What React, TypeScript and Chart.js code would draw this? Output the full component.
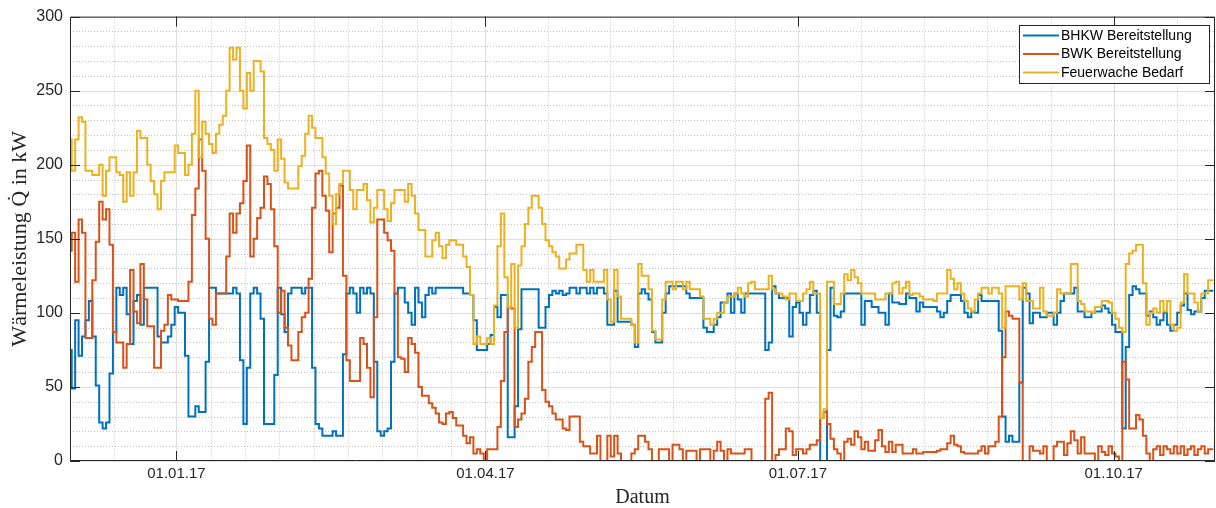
import React, { useEffect, useRef } from "react";
import { Chart, registerables } from "chart.js";

Chart.register(...registerables);

// Daily values, index = days since 01.12.2016
const bhkw: number[] = [
  75, 49, 95, 71, 84, 95, 108, 84, 51, 26,
  22, 26, 59, 87, 117, 112, 117, 99, 79, 108,
  112, 92, 117, 117, 117, 117, 84, 80, 80, 84,
  92, 104, 100, 100, 71, 30, 30, 37, 33, 33,
  67, 117, 117, 113, 113, 113, 113,
  113, 117,
  113, 68, 25, 63, 113, 117, 113, 96, 25, 25,
  25, 58, 117, 99, 87, 113, 117, 117, 117, 113,
  117, 117, 63, 25, 22, 17, 17, 17, 20, 17,
  17, 72, 113, 117, 113, 100, 117, 113, 117, 113,
  67, 20, 17, 20, 22, 67, 113, 117, 117, 107,
  100, 92, 117, 107, 97, 112, 117, 113, 117, 117,
  117, 117, 117, 117, 117, 117, 113, 113, 112, 95,
  75, 75, 75, 79, 85, 104, 97, 112, 112, 16,
  16, 37, 89, 116, 116,
  116, 116, 116, 90,
  90, 104, 112, 115, 113, 115, 112, 113, 117, 117,
  113, 117, 117, 113, 117, 113, 117, 117, 113, 92,
  92, 115, 94, 94, 94, 94, 92, 77, 113, 116,
  113, 109, 87, 80, 80, 100, 113, 118, 118, 118,
  118, 118, 113, 110, 110, 110, 110, 90, 87, 87,
  92, 97, 107, 107, 113, 100, 113, 109, 100, 113,
  113, 113, 113, 113, 113, 75, 80, 118, 113, 110,
  110, 110, 84, 104, 107, 100, 92, 100, 112, 115,
  100, 0, 0, 75, 117, 98, 97,
  101, 113,
  113, 113, 113, 113, 92, 108, 108, 104, 104, 100,
  100, 92, 113, 107, 107, 106, 106, 113, 110, 110,
  101, 107, 104, 104, 104, 104, 101, 97, 100, 108,
  112, 112, 112, 108, 100, 97, 101, 100, 112, 108,
  108, 108, 108, 108, 88, 30, 13, 17, 13, 13,
  53, 117, 113, 93, 100, 100, 97, 97, 100, 100,
  92, 100, 108, 113, 113, 113, 117, 101, 101, 97,
  97, 100, 101, 101, 105, 103, 100, 92, 87, 87,
  22, 77, 112, 118,
  116, 113, 113, 98, 101,
  97, 92, 95, 100, 92, 88, 92, 100, 105, 113,
  102, 99, 101, 101, 110, 115, 115, 115,
];

const bwk: number[] = [
  142, 154, 121, 163, 154, 83, 83, 122, 148, 175,
  163, 170, 146, 87, 80, 80, 63, 79, 129, 101,
  93, 133, 109, 91, 91, 63, 63, 88, 92, 112,
  109, 109, 108, 108, 108, 121, 166, 184, 217, 196,
  150, 96, 92, 113, 113, 113, 138,
  167, 154,
  167, 174, 189, 213, 138, 150, 164, 171, 192, 187,
  170, 145, 100, 115, 90, 78, 68, 68, 87, 97,
  100, 123, 171, 194, 196, 179, 169, 141, 167, 171,
  186, 125, 68, 54, 54, 54, 83, 79, 63, 43,
  97, 163, 163, 154, 149, 142, 113, 70, 69, 60,
  83, 79, 73, 50, 44, 44, 39, 36, 32, 26,
  25, 32, 33, 29, 24, 24, 17, 12, 16, 5,
  8, 5, 0, 8, 8, 8, 23, 54, 87, 104,
  103, 23, 28, 32, 42,
  67, 77, 87, 87,
  48, 40, 37, 32, 28, 28, 22, 21, 30, 30,
  30, 13, 10, 10, 5, 5, 17, 0, 0, 17,
  3, 17, 5, 0, 0, 0, 5, 8, 17, 17,
  13, 8, 0, 0, 8, 8, 8, 0, 11, 11,
  8, 0, 7, 7, 7, 0, 8, 8, 8, 0,
  7, 13, 7, 0, 8, 5, 5, 5, 5, 8,
  8, 0, 0, 0, 0, 42, 46, 0, 4, 8,
  8, 22, 20, 4, 8, 8, 5, 8, 11, 11,
  14, 29, 33, 25, 15, 8, 5,
  0, 13,
  15, 11, 20, 16, 8, 13, 7, 7, 14, 21,
  10, 6, 13, 6, 11, 11, 5, 5, 5, 8,
  5, 5, 6, 6, 6, 6, 7, 8, 8, 12,
  17, 11, 10, 6, 5, 5, 5, 5, 7, 10,
  5, 10, 10, 13, 30, 70, 101, 98, 96, 96,
  53, 0, 0, 10, 7, 7, 5, 10, 0, 0,
  10, 13, 13, 4, 12, 20, 14, 5, 16, 5,
  5, 5, 0, 10, 6, 4, 10, 5, 3, 0,
  67, 55, 22, 22,
  31, 28, 17, 5, 0,
  8, 10, 4, 10, 8, 5, 10, 5, 10, 4,
  8, 10, 4, 8, 10, 5, 8, 8,
];

const feuerwache: number[] = [
  217, 196, 217, 232, 229, 196, 196, 193, 193, 200,
  179, 196, 205, 205, 195, 193, 175, 195, 179, 195,
  223, 218, 218, 200, 189, 180, 170, 189, 195, 195,
  195, 213, 208, 208, 193, 200, 221, 250, 205, 229,
  221, 214, 208, 221, 227, 233, 250,
  279, 271,
  279, 250, 238, 262, 250, 270, 270, 263, 218, 214,
  210, 196, 217, 204, 188, 184, 184, 184, 199, 206,
  221, 233, 225, 218, 218, 205, 194, 179, 160, 180,
  187, 196, 196, 183, 170, 183, 183, 187, 176, 161,
  171, 183, 183, 170, 162, 174, 183, 183, 183, 175,
  187, 179, 167, 156, 156, 138, 138, 149, 154, 145,
  137, 146, 149, 149, 146, 146, 138, 131, 112, 79,
  84, 79, 79, 83, 79, 105, 145, 167, 124, 104,
  133, 90, 132, 145, 160,
  171, 179, 179, 171,
  160, 149, 145, 141, 138, 130, 130, 136, 140, 140,
  146, 146, 129, 121, 129, 121, 121, 121, 129, 109,
  94, 129, 111, 96, 96, 96, 92, 80, 133, 125,
  125, 116, 88, 82, 82, 109, 121, 121, 116, 121,
  121, 116, 121, 116, 116, 116, 111, 96, 96, 92,
  96, 100, 100, 107, 111, 111, 113, 117, 113, 111,
  120, 121, 116, 116, 116, 116, 125, 116, 113, 113,
  111, 109, 113, 113, 108, 108, 113, 116, 121, 113,
  113, 29, 35, 121, 121, 106, 106,
  113, 126,
  122, 129, 124, 120, 113, 113, 113, 113, 109, 109,
  109, 113, 113, 120, 121, 113, 117, 121, 112, 113,
  113, 111, 109, 109, 109, 108, 113, 113, 113, 129,
  123, 116, 120, 113, 108, 103, 101, 109, 113, 117,
  117, 113, 117, 117, 113, 90, 118, 118, 118, 118,
  109, 120, 108, 108, 103, 103, 117, 101, 98, 98,
  100, 116, 113, 113, 113, 133, 133, 108, 106, 101,
  101, 100, 104, 104, 108, 108, 107, 100, 96, 90,
  87, 133, 140, 142,
  146, 146, 120, 92, 100,
  103, 100, 108, 101, 108, 92, 88, 90, 107, 126,
  113, 113, 107, 101, 113, 113, 122, 122,
];

const seriesLabels = ["BHKW Bereitstellung", "BWK Bereitstellung", "Feuerwache Bedarf"];
const seriesColors = ["#0072BD", "#D95319", "#EDB120"];

// x positions in days since 01.12.2016
const majorTickDays = [31, 121, 212, 304];
const majorTickLabels = ["01.01.17", "01.04.17", "01.07.17", "01.10.17"];
const minorTickDays = [12.8, 41, 51, 61, 71, 81, 91, 101, 111, 139.2, 157.4, 175.6, 193.8, 230.4, 248.8, 267.2, 285.6, 322.4];
const yMajorTicks = [0, 50, 100, 150, 200, 250, 300];

const AXIS_COLOR = "#262626";
const TICK_FONT = "'Liberation Sans', Arial, Helvetica, sans-serif";
const LABEL_FONT = "'Liberation Serif', 'Times New Roman', serif";

const matlabAxes = {
  id: "matlabAxes",
  beforeDatasetsDraw(chart: any) {
    const { ctx, chartArea: a, scales } = chart;
    const x = scales.x;
    const y = scales.y;
    ctx.save();
    ctx.lineWidth = 1;
    ctx.strokeStyle = "rgba(38,38,38,0.28)";
    ctx.setLineDash([1, 2]);
    ctx.beginPath();
    for (const d of minorTickDays) {
      const px = Math.round(x.getPixelForValue(d)) + 0.5;
      ctx.moveTo(px, a.top);
      ctx.lineTo(px, a.bottom);
    }
    for (let v = 10; v < 300; v += 10) {
      if (v % 50 === 0) continue;
      const py = Math.round(y.getPixelForValue(v)) + 0.5;
      ctx.moveTo(a.left, py);
      ctx.lineTo(a.right, py);
    }
    ctx.stroke();
    ctx.setLineDash([]);
    ctx.strokeStyle = "rgba(38,38,38,0.15)";
    ctx.beginPath();
    for (const d of majorTickDays) {
      const px = Math.round(x.getPixelForValue(d)) + 0.5;
      ctx.moveTo(px, a.top);
      ctx.lineTo(px, a.bottom);
    }
    for (const v of yMajorTicks) {
      const py = Math.round(y.getPixelForValue(v)) + 0.5;
      ctx.moveTo(a.left, py);
      ctx.lineTo(a.right, py);
    }
    ctx.stroke();
    ctx.restore();
  },
  afterDatasetsDraw(chart: any) {
    const { ctx, chartArea: a, scales } = chart;
    const x = scales.x;
    const y = scales.y;
    const tl = 10;
    ctx.save();
    ctx.lineWidth = 1;
    ctx.strokeStyle = AXIS_COLOR;
    ctx.beginPath();
    ctx.rect(a.left + 0.5, a.top + 0.5, a.right - a.left - 1, a.bottom - a.top - 1);
    for (const d of majorTickDays) {
      const px = Math.round(x.getPixelForValue(d)) + 0.5;
      ctx.moveTo(px, a.bottom);
      ctx.lineTo(px, a.bottom - tl);
      ctx.moveTo(px, a.top);
      ctx.lineTo(px, a.top + tl);
    }
    for (const v of yMajorTicks) {
      const py = Math.round(y.getPixelForValue(v)) + 0.5;
      ctx.moveTo(a.left, py);
      ctx.lineTo(a.left + tl, py);
      ctx.moveTo(a.right, py);
      ctx.lineTo(a.right - tl, py);
    }
    ctx.stroke();
    ctx.restore();
  },
  afterDraw(chart: any) {
    const { ctx } = chart;
    const ds = chart.data.datasets;
    const bx = 1019.5, by = 25.5, bw = 190, bh = 58;
    ctx.save();
    ctx.fillStyle = "#ffffff";
    ctx.fillRect(bx, by, bw, bh);
    ctx.strokeStyle = AXIS_COLOR;
    ctx.lineWidth = 1;
    ctx.strokeRect(bx, by, bw, bh);
    ctx.font = `14px ${TICK_FONT}`;
    ctx.textBaseline = "middle";
    ctx.textAlign = "left";
    const rowY = [35.5, 54, 72.5];
    ds.forEach((d: any, i: number) => {
      const ry = rowY[i];
      ctx.strokeStyle = d.borderColor;
      ctx.lineWidth = 2;
      ctx.beginPath();
      ctx.moveTo(1023, ry);
      ctx.lineTo(1059, ry);
      ctx.stroke();
      ctx.fillStyle = "#000000";
      ctx.fillText(d.label, 1061, ry + 0.5);
    });
    ctx.restore();
  },
};

export default function App() {
  const ref = useRef<HTMLCanvasElement | null>(null);

  useEffect(() => {
    if (!ref.current) return;
    const makeData = (arr: number[]) => arr.map((v, i) => ({ x: i, y: v }));
    const seriesValues = [bhkw, bwk, feuerwache];
    const chart = new Chart(ref.current, {
      type: "line",
      data: {
        datasets: seriesValues.map((arr, i) => ({
          label: seriesLabels[i],
          data: makeData(arr),
          borderColor: seriesColors[i],
          backgroundColor: seriesColors[i],
          borderWidth: 2,
          pointRadius: 0,
          pointHoverRadius: 0,
          stepped: "middle" as const,
          fill: false,
          order: 3 - i,
        })),
      },
      options: {
        responsive: false,
        animation: false,
        devicePixelRatio: 1,
        layout: { padding: { left: 0, right: 1, top: 15, bottom: 0 } },
        plugins: {
          legend: { display: false },
          tooltip: { enabled: false },
        },
        scales: {
          x: {
            type: "linear",
            min: 0,
            max: 333.5,
            afterBuildTicks: (s: any) => {
              s.ticks = majorTickDays.map((v) => ({ value: v }));
            },
            afterFit: (s: any) => {
              s.height = 47;
            },
            grid: { display: false, drawTicks: false },
            border: { display: false },
            ticks: {
              autoSkip: false,
              maxRotation: 0,
              padding: 4,
              color: AXIS_COLOR,
              font: { family: TICK_FONT, size: 15 },
              callback: (_v: any, i: number) => majorTickLabels[i],
            },
            title: {
              display: true,
              text: "Datum",
              color: AXIS_COLOR,
              font: { family: LABEL_FONT, size: 20, lineHeight: 1.0 },
              padding: { top: 0, bottom: 0 },
            },
          },
          y: {
            type: "linear",
            min: 0,
            max: 300,
            afterBuildTicks: (s: any) => {
              s.ticks = yMajorTicks.map((v) => ({ value: v }));
            },
            afterFit: (s: any) => {
              s.width = 70;
            },
            grid: { display: false, drawTicks: false },
            border: { display: false },
            ticks: {
              padding: 7,
              color: AXIS_COLOR,
              font: { family: TICK_FONT, size: 16 },
            },
            title: {
              display: true,
              text: "Wärmeleistung Q\u0307 in kW",
              color: AXIS_COLOR,
              font: { family: LABEL_FONT, size: 22 },
              padding: { top: 7, bottom: 0 },
            },
          },
        },
      },
      plugins: [matlabAxes],
    } as any);
    return () => chart.destroy();
  }, []);

  return (
    <div style={{ position: "fixed", left: 0, top: 0, width: 1216, height: 508, background: "#ffffff" }}>
      <canvas ref={ref} width={1216} height={508} style={{ display: "block", width: 1216, height: 508 }} />
    </div>
  );
}
